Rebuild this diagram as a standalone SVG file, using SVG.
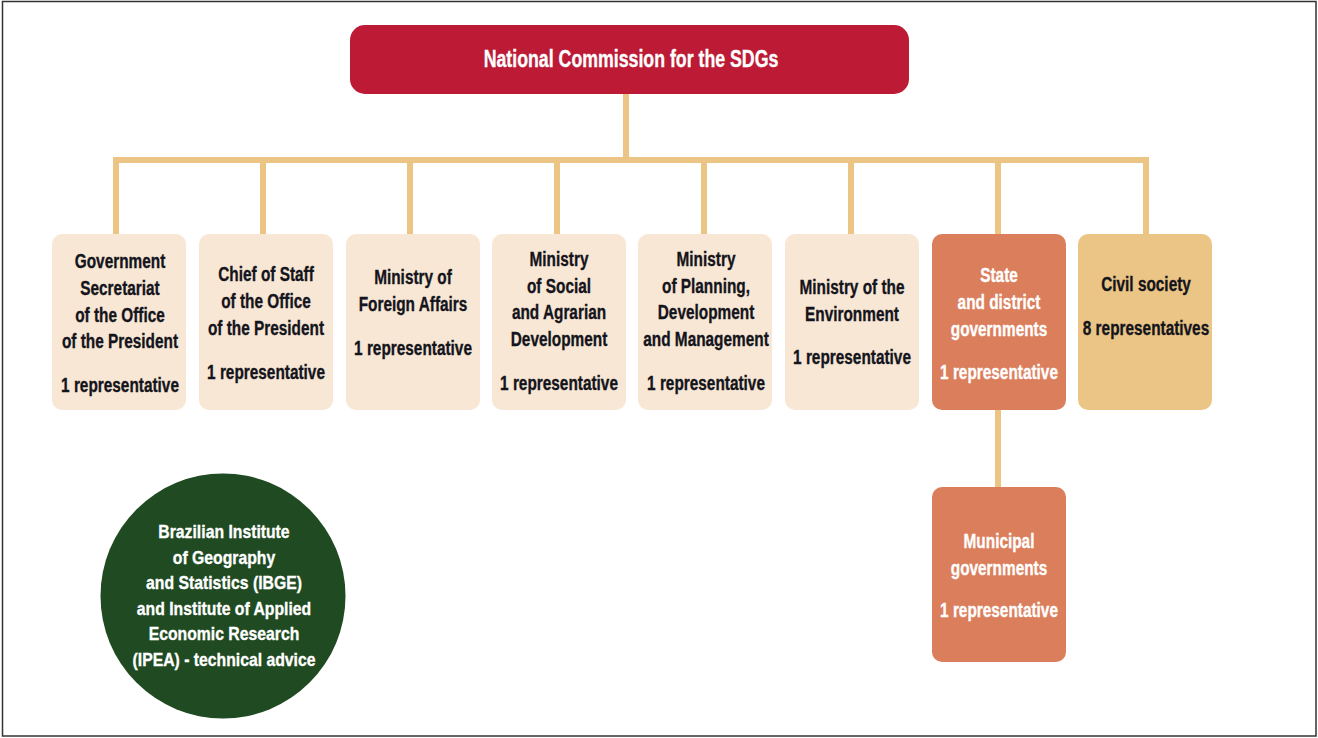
<svg xmlns="http://www.w3.org/2000/svg" width="1318" height="738" viewBox="0 0 1318 738">
  <style>
    text { font-family: "Liberation Sans", Arial, sans-serif; font-weight: bold; font-size: 20.5px; text-anchor: middle; fill: #14141c; stroke: #14141c; stroke-width: 0.35; }
    .light text, text.light { fill: #ffffff; stroke: #ffffff; }
    .title { font-size: 23.5px; fill: #ffffff; stroke: #ffffff; }
    .circ text { font-size: 19px; fill: #ffffff; stroke: #ffffff; }
    .box { fill: #f8e7d4; }
    .gov { fill: #db7e5c; }
    .civil { fill: #ebc585; }
    .link { stroke: #ecc585; stroke-width: 6; fill: none; }
  </style>

  <!-- page frame -->
  <rect x="2.5" y="1.5" width="1313.5" height="734.5" fill="#ffffff" stroke="#333333" stroke-width="1.5"/>

  <g id="connectors">
    <path class="link" d="M626 94 V160 M116 234 V160 H1146 V234 M263 160 V234 M410 160 V234 M557 160 V234 M704 160 V234 M851 160 V234 M998 160 V234"/>
    <path class="link" d="M998 410 V487"/>
  </g>

  <g id="commission">
    <rect x="350" y="25" width="559" height="69" rx="15" fill="#bc1a35"/>
    <g transform="translate(631 0) scale(0.755 1)">
      <text class="title" x="0" y="67">National Commission for the SDGs</text>
    </g>
  </g>

  <g id="gov-secretariat">
    <rect class="box" x="52" y="234" width="134" height="176" rx="10"/>
    <g transform="translate(120 0) scale(0.75 1)">
      <text x="0" y="268">Government</text>
      <text x="0" y="295">Secretariat</text>
      <text x="0" y="322">of the Office</text>
      <text x="0" y="348">of the President</text>
      <text x="0" y="392">1 representative</text>
    </g>
  </g>

  <g id="chief-of-staff">
    <rect class="box" x="199" y="234" width="134" height="176" rx="10"/>
    <g transform="translate(266 0) scale(0.75 1)">
      <text x="0" y="281">Chief of Staff</text>
      <text x="0" y="308">of the Office</text>
      <text x="0" y="335">of the President</text>
      <text x="0" y="379">1 representative</text>
    </g>
  </g>

  <g id="foreign-affairs">
    <rect class="box" x="346" y="234" width="134" height="176" rx="10"/>
    <g transform="translate(413 0) scale(0.75 1)">
      <text x="0" y="284">Ministry of</text>
      <text x="0" y="311">Foreign Affairs</text>
      <text x="0" y="355">1 representative</text>
    </g>
  </g>

  <g id="social-agrarian">
    <rect class="box" x="492" y="234" width="134" height="176" rx="10"/>
    <g transform="translate(559 0) scale(0.75 1)">
      <text x="0" y="266">Ministry</text>
      <text x="0" y="293">of Social</text>
      <text x="0" y="319">and Agrarian</text>
      <text x="0" y="346">Development</text>
      <text x="0" y="390">1 representative</text>
    </g>
  </g>

  <g id="planning">
    <rect class="box" x="638" y="234" width="134" height="176" rx="10"/>
    <g transform="translate(706 0) scale(0.75 1)">
      <text x="0" y="266">Ministry</text>
      <text x="0" y="293">of Planning,</text>
      <text x="0" y="319">Development</text>
      <text x="0" y="346">and Management</text>
      <text x="0" y="390">1 representative</text>
    </g>
  </g>

  <g id="environment">
    <rect class="box" x="785" y="234" width="134" height="176" rx="10"/>
    <g transform="translate(852 0) scale(0.75 1)">
      <text x="0" y="294">Ministry of the</text>
      <text x="0" y="321">Environment</text>
      <text x="0" y="364">1 representative</text>
    </g>
  </g>

  <g id="state-district">
    <rect class="gov" x="932" y="234" width="134" height="176" rx="10"/>
    <g class="light" transform="translate(999 0) scale(0.75 1)">
      <text x="0" y="282">State</text>
      <text x="0" y="309">and district</text>
      <text x="0" y="336">governments</text>
      <text x="0" y="379">1 representative</text>
    </g>
  </g>

  <g id="civil-society">
    <rect class="civil" x="1078" y="234" width="134" height="176" rx="10"/>
    <g transform="translate(1146 0) scale(0.75 1)">
      <text x="0" y="291">Civil society</text>
      <text x="0" y="335">8 representatives</text>
    </g>
  </g>

  <g id="municipal">
    <rect class="gov" x="932" y="487" width="134" height="175" rx="10"/>
    <g class="light" transform="translate(999 0) scale(0.75 1)">
      <text x="0" y="548">Municipal</text>
      <text x="0" y="575">governments</text>
      <text x="0" y="617">1 representative</text>
    </g>
  </g>

  <g id="ibge-ipea">
    <circle cx="223" cy="596" r="122.5" fill="#1f4a22"/>
    <g class="circ" transform="translate(224 0) scale(0.83 1)">
      <text x="0" y="538">Brazilian Institute</text>
      <text x="0" y="564">of Geography</text>
      <text x="0" y="589">and Statistics (IBGE)</text>
      <text x="0" y="615">and Institute of Applied</text>
      <text x="0" y="640">Economic Research</text>
      <text x="0" y="666">(IPEA) - technical advice</text>
    </g>
  </g>
</svg>
